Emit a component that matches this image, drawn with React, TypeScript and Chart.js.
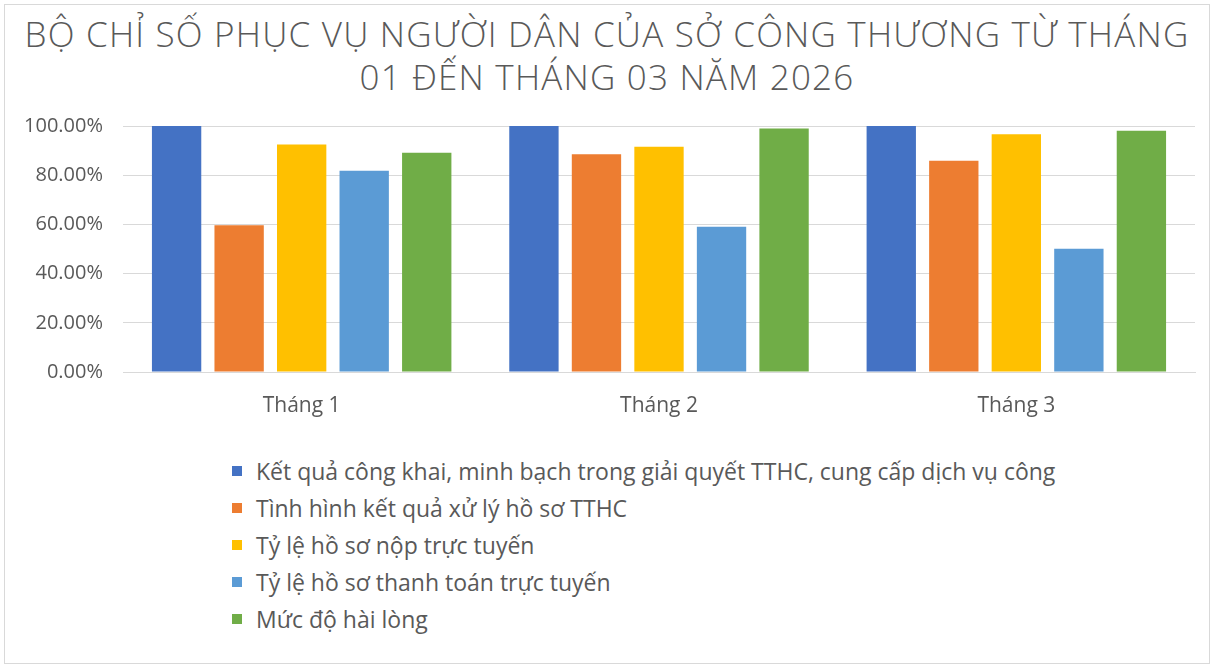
import React, { useEffect, useRef } from "react";
import { Chart, registerables } from "chart.js";

Chart.register(...registerables);

const categories = ["Tháng 1", "Tháng 2", "Tháng 3"];
const seriesNames = [
  "Kết quả công khai, minh bạch trong giải quyết TTHC, cung cấp dịch vụ công",
  "Tình hình kết quả xử lý hồ sơ TTHC",
  "Tỷ lệ hồ sơ nộp trực tuyến",
  "Tỷ lệ hồ sơ thanh toán trực tuyến",
  "Mức độ hài lòng",
];
const congKhai = [100, 100, 100];
const xuLyHoSo = [59.7, 88.5, 85.9];
const nopTrucTuyen = [92.5, 91.6, 96.6];
const thanhToan = [81.8, 59.0, 50.1];
const haiLong = [89.1, 99.0, 98.1];
const seriesValues = [congKhai, xuLyHoSo, nopTrucTuyen, thanhToan, haiLong];
const colors = ["#4472C4", "#ED7D31", "#FFC000", "#5B9BD5", "#70AD47"];
const titleLines = [
  "BỘ CHỈ SỐ PHỤC VỤ NGƯỜI DÂN CỦA SỞ CÔNG THƯƠNG TỪ THÁNG",
  "01 ĐẾN THÁNG 03 NĂM 2026",
];

const FONT = "'Open Sans', 'Noto Sans', sans-serif";
const TEXT = "#595959";

export default function App() {
  const ref = useRef<HTMLCanvasElement | null>(null);

  useEffect(() => {
    if (!ref.current) return;
    const chart = new Chart(ref.current, {
      type: "bar",
      data: {
        labels: categories,
        datasets: seriesNames.map((name, i) => ({
          label: name,
          data: seriesValues[i],
          backgroundColor: colors[i],
          borderWidth: 0,
          categoryPercentage: 0.875,
          barPercentage: 0.789,
        })),
      },
      options: {
        animation: false,
        responsive: false,
        maintainAspectRatio: false,
        layout: { padding: { left: 0, right: 19, top: 126, bottom: 0 } },
        plugins: {
          legend: { display: false },
          tooltip: { enabled: false },
          title: { display: false },
        },
        scales: {
          x: {
            grid: { display: false, drawTicks: false },
            border: { display: true, color: "#d9d9d9" },
            ticks: { color: TEXT, font: { family: FONT, size: 21 }, padding: 21 },
            afterFit: (s: any) => {
              s.height = 60;
            },
          },
          y: {
            min: 0,
            max: 100,
            ticks: {
              stepSize: 20,
              color: TEXT,
              font: { family: FONT, size: 20 },
              padding: 20,
              callback: (v: any) => Number(v).toFixed(2) + "%",
            },
            grid: { color: "#d9d9d9", drawTicks: false },
            border: { display: false },
            afterFit: (s: any) => {
              s.width = 123;
            },
          },
        },
      },
    });
    return () => chart.destroy();
  }, []);

  const rows = [471, 508, 545, 582, 619];
  const titleTops = [16, 59];

  return (
    <>
      <div
        style={{
          position: "absolute",
          left: 4,
          top: 4,
          width: 1206,
          height: 660,
          border: "1px solid #d9d9d9",
          boxSizing: "border-box",
          background: "#fff",
        }}
      />
      {titleLines.map((t, i) => (
        <div
          key={t}
          style={{
            position: "absolute",
            left: 0,
            top: titleTops[i],
            width: 1214,
            textAlign: "center",
            fontFamily: FONT,
            fontWeight: 300,
            fontSize: 35,
            lineHeight: "35px",
            letterSpacing: "1.2px",
            color: TEXT,
            whiteSpace: "nowrap",
          }}
        >
          {t}
        </div>
      ))}
      <canvas
        ref={ref}
        width={1214}
        height={432}
        style={{ position: "absolute", left: 0, top: 0, width: 1214, height: 432 }}
      />
      {seriesNames.map((name, i) => (
        <div
          key={name}
          style={{
            position: "absolute",
            left: 232,
            top: rows[i] - 15,
            height: 30,
            display: "flex",
            alignItems: "center",
            fontFamily: FONT,
            fontSize: 23,
            color: TEXT,
            whiteSpace: "nowrap",
          }}
        >
          <span
            style={{
              display: "inline-block",
              width: 10,
              height: 10,
              background: colors[i],
              marginRight: 14,
            }}
          />
          <span>{name}</span>
        </div>
      ))}
    </>
  );
}
